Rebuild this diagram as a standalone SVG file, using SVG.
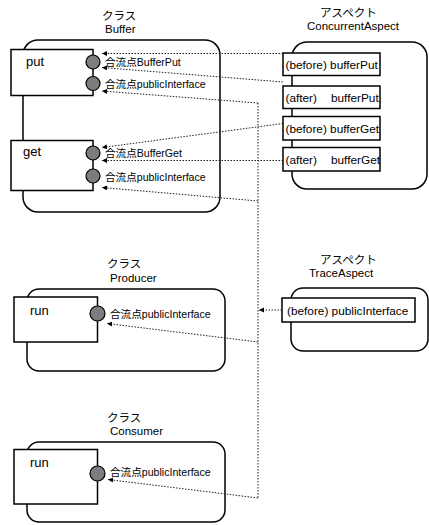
<svg xmlns="http://www.w3.org/2000/svg" width="429" height="525" viewBox="0 0 429 525">
<style>
.outer{fill:#fff;stroke:#000;stroke-width:1.5}
.box{fill:#fff;stroke:#000;stroke-width:1.5}
.pt{fill:#7d7d7d;stroke:#000;stroke-width:1.2}
.t{font-family:"Liberation Sans","Noto Sans CJK JP",sans-serif;font-size:11.5px;fill:#000}
.lbl{font-family:"Liberation Sans","Noto Sans CJK JP",sans-serif;font-size:10.6px;fill:#000}
.op{font-family:"Liberation Sans",sans-serif;font-size:13px;fill:#000}
.adv{font-family:"Liberation Sans",sans-serif;font-size:11.8px;fill:#000}
.c{fill:none;stroke:#222;stroke-width:1;stroke-dasharray:1.5 1.5}
</style>
<defs>
<marker id="ah" markerUnits="userSpaceOnUse" markerWidth="6" markerHeight="6" refX="5" refY="2.5" orient="auto">
<path d="M0,0 L5,2.5 L0,5 Z" fill="#000"/>
</marker>
</defs>
<rect width="429" height="525" fill="#fff"/>

<g id="buffer">
<text class="t" x="102" y="20">クラス</text>
<text class="t" x="105" y="33">Buffer</text>
<rect class="outer" x="23" y="40" width="197" height="172" rx="15"/>
<rect class="box" x="11" y="49.5" width="82" height="46"/>
<text class="op" x="26" y="66">put</text>
<rect class="box" x="11" y="140.5" width="82" height="50"/>
<text class="op" x="23" y="156">get</text>
<circle class="pt" cx="93" cy="62" r="7"/>
<circle class="pt" cx="93" cy="83.5" r="7"/>
<circle class="pt" cx="93" cy="153" r="7"/>
<circle class="pt" cx="93" cy="176" r="7"/>
<text class="lbl" x="105" y="66">合流点BufferPut</text>
<text class="lbl" x="105" y="87.5">合流点publicInterface</text>
<text class="lbl" x="105" y="157">合流点BufferGet</text>
<text class="lbl" x="105" y="180.5">合流点publicInterface</text>
</g>

<g id="concurrentAspect">
<text class="t" x="320" y="17">アスペクト</text>
<text class="t" x="307" y="30">ConcurrentAspect</text>
<rect class="outer" x="292" y="42" width="135" height="147" rx="15"/>
<rect class="box" x="283" y="53" width="97" height="22.5"/>
<text class="adv" x="285.5" y="68.5">(before) bufferPut</text>
<rect class="box" x="283" y="86" width="97" height="22.5"/>
<text class="adv" x="285.5" y="101.5">(after)</text>
<text class="adv" x="331" y="101.5">bufferPut</text>
<rect class="box" x="283" y="116.5" width="97" height="23.5"/>
<text class="adv" x="285.5" y="132.5">(before) bufferGet</text>
<rect class="box" x="283" y="147.5" width="97" height="23.5"/>
<text class="adv" x="285.5" y="163.5">(after)</text>
<text class="adv" x="331" y="163.5">bufferGet</text>
</g>

<g id="producer">
<text class="t" x="107" y="268">クラス</text>
<text class="t" x="110" y="282">Producer</text>
<rect class="outer" x="27" y="289" width="198" height="82" rx="12"/>
<rect class="box" x="14" y="297" width="83.5" height="45"/>
<text class="op" x="30" y="315">run</text>
<circle class="pt" cx="97.5" cy="313.5" r="7.5"/>
<text class="lbl" x="110" y="318">合流点publicInterface</text>
</g>

<g id="traceAspect">
<text class="t" x="320" y="264">アスペクト</text>
<text class="t" x="309" y="277">TraceAspect</text>
<rect class="outer" x="291" y="288" width="137" height="63" rx="12"/>
<rect class="box" x="282" y="298" width="133" height="24"/>
<text class="adv" x="287" y="314.5">(before) publicInterface</text>
</g>

<g id="consumer">
<text class="t" x="107" y="422">クラス</text>
<text class="t" x="110" y="435">Consumer</text>
<rect class="outer" x="27" y="442" width="198" height="80" rx="12"/>
<rect class="box" x="14" y="449.5" width="83.5" height="54.5"/>
<text class="op" x="30" y="467">run</text>
<circle class="pt" cx="97.5" cy="473.5" r="7.5"/>
<text class="lbl" x="110" y="476">合流点publicInterface</text>
</g>

<g id="connectors">
<path class="c" d="M283,53.5 L102,53.5" marker-end="url(#ah)"/>
<path class="c" d="M283,82 L102,67.5" marker-end="url(#ah)"/>
<path class="c" d="M283,123.5 L102,147.5" marker-end="url(#ah)"/>
<path class="c" d="M283,160.5 L102,160.5" marker-end="url(#ah)"/>
<path class="c" d="M258,103 L102,91" marker-end="url(#ah)"/>
<path class="c" d="M258,201 L102,187.5" marker-end="url(#ah)"/>
<path class="c" d="M258,103 L258,498"/>
<path class="c" d="M258,342 L107,323.5" marker-end="url(#ah)"/>
<path class="c" d="M258,498 L108,479.5" marker-end="url(#ah)"/>
<path class="c" d="M282,310 L259,310" marker-end="url(#ah)"/>
</g>
</svg>
